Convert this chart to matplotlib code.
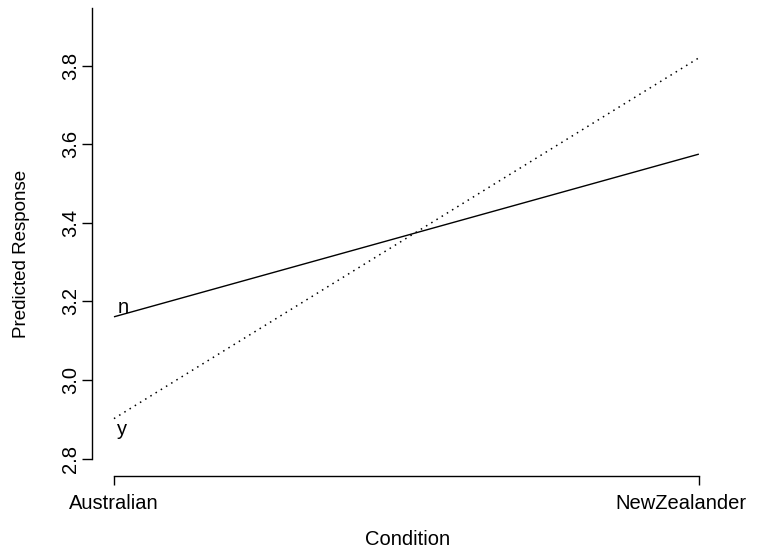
import matplotlib.pyplot as plt
from matplotlib.transforms import ScaledTranslation

plt.rcParams['font.family'] = ['Liberation Sans', 'DejaVu Sans']

# Data
conditions = ['Australian', 'NewZealander']
group_labels = ['n', 'y']
resp_n = [3.161, 3.575]
resp_y = [2.902, 3.820]
y_ticks = [2.8, 3.0, 3.2, 3.4, 3.6, 3.8]

W, H = 758, 553
fig = plt.figure(figsize=(W / 100, H / 100), dpi=100)
ax = fig.add_axes([92 / W, (H - 458.7) / H, 631 / W, 450.4 / H])

x = list(range(len(conditions)))
ax.plot(x, resp_n, color='black', lw=1.0, solid_capstyle='butt')
ax.plot(x, resp_y, color='black', lw=1.1, linestyle=(0, (1, 3.0)))

# group letters at the start of each line
ax.annotate(group_labels[0], (x[0], resp_n[0]), xytext=(3, 3),
            textcoords='offset points', fontsize=14.5, ha='left', va='baseline')
ax.annotate(group_labels[1], (x[0], resp_y[0]), xytext=(2, -12),
            textcoords='offset points', fontsize=14.5, ha='left', va='baseline')

ax.set_xlim(-22 / 586, 1 + 23 / 586 + 0.002)
ax.set_ylim(2.8, 2.8 + 450.4 / 393)

for s in ['top', 'right']:
    ax.spines[s].set_visible(False)
ax.spines['bottom'].set_position(('outward', 12.8))
ax.spines['bottom'].set_bounds(0, 1)
ax.spines['left'].set_linewidth(1.0)
ax.spines['bottom'].set_linewidth(1.0)

ax.set_xticks(x)
ax.set_xticklabels(conditions, fontsize=14.5)
ax.set_yticks(y_ticks)
ax.set_yticklabels([f'{v:.1f}' for v in y_ticks], fontsize=14.5,
                   rotation=90, va='center')
ax.tick_params(axis='y', length=7.2, width=1.0, pad=1.5)
ax.tick_params(axis='x', length=6.5, width=1.0, pad=6)

lab = ax.get_xticklabels()[1]
lab.set_transform(lab.get_transform() + ScaledTranslation(-0.18, 0, fig.dpi_scale_trans))

ax.set_xlabel('Condition', fontsize=14.5, labelpad=12)
ax.set_ylabel('Predicted Response', fontsize=13.5)
ax.yaxis.set_label_coords(-0.098, 0.4545)

fig.savefig('out.png', dpi=100)
